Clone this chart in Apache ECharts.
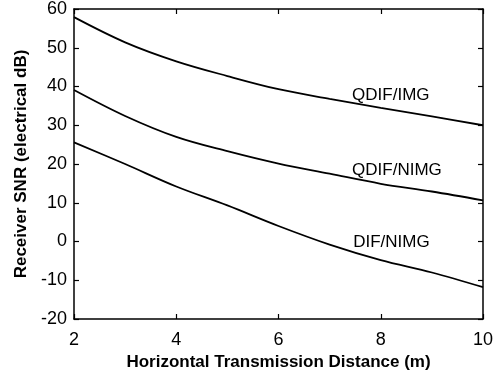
<!DOCTYPE html>
<html>
<head>
<meta charset="utf-8">
<script src="https://cdn.jsdelivr.net/npm/echarts@6/dist/echarts.min.js"></script>
<style>
html,body{margin:0;padding:0;background:#fff;}
#c{width:504px;height:376px;}
</style>
</head>
<body>
<div id="c"></div>
<script>
const distance = [2, 3, 4, 5, 6, 7, 8, 9, 10];
const qdifImg = [57.9, 51.4, 46.5, 42.7, 39.3, 36.8, 34.5, 32.3, 30.0];
const qdifNimg = [39.1, 32.4, 27.0, 23.3, 20.1, 17.5, 14.9, 12.9, 10.6];
const difNimg = [25.6, 20.0, 14.2, 9.3, 4.0, -0.8, -4.8, -8.0, -11.8];
const seriesNames = ['QDIF/IMG', 'QDIF/NIMG', 'DIF/NIMG'];
const labelAnchors = [[7.44, 37.7], [7.44, 18.4], [7.46, -0.2]];
const xTitle = 'Horizontal Transmission Distance (m)';
const yTitle = 'Receiver SNR (electrical dB)';

const FONT = '"Liberation Sans", Arial, Helvetica, sans-serif';
const chart = echarts.init(document.getElementById('c'), null, {renderer: 'canvas'});

function pairs(ys) { return distance.map((x, i) => [x, ys[i]]); }

const axisLine = {show: true, onZero: false, lineStyle: {color: '#000', width: 1.5}};
const tickIn = {show: true, inside: true, length: 5, lineStyle: {color: '#000', width: 1.2}};

const option = {
  animation: false,
  backgroundColor: '#fff',
  grid: {left: 74, right: 21, top: 4, bottom: 57, containLabel: false},
  xAxis: [
    {type: 'value', min: 2, max: 10, interval: 2, position: 'bottom',
     axisLine, axisTick: tickIn, splitLine: {show: false},
     axisLabel: {color: '#000', fontSize: 18, fontFamily: FONT, margin: 12},
     name: xTitle, nameLocation: 'middle', nameGap: 34,
     nameTextStyle: {color: '#000', fontSize: 17, fontWeight: 'bold', fontFamily: FONT}},
    {type: 'value', min: 2, max: 10, interval: 2, position: 'top',
     axisLine, axisTick: tickIn, axisLabel: {show: false}, splitLine: {show: false}}
  ],
  yAxis: [
    {type: 'value', min: -20, max: 60, interval: 10, position: 'left',
     axisLine, axisTick: tickIn, splitLine: {show: false},
     axisLabel: {color: '#000', fontSize: 18, fontFamily: FONT, margin: 7},
     name: yTitle, nameLocation: 'middle', nameGap: 41, nameRotate: 90,
     nameTextStyle: {color: '#000', fontSize: 17, fontWeight: 'bold', fontFamily: FONT}},
    {type: 'value', min: -20, max: 60, interval: 10, position: 'right',
     axisLine, axisTick: tickIn, axisLabel: {show: false}, splitLine: {show: false}}
  ],
  series: [qdifImg, qdifNimg, difNimg].map((ys, i) => ({
    name: seriesNames[i], type: 'line', smooth: 0.35, showSymbol: false,
    data: pairs(ys), lineStyle: {color: '#000', width: 1.8}, xAxisIndex: 0, yAxisIndex: 0
  }))
};
chart.setOption(option);

const graphics = seriesNames.map((n, i) => {
  const p = chart.convertToPixel({xAxisIndex: 0, yAxisIndex: 0}, labelAnchors[i]);
  return {type: 'text', x: p[0], y: p[1],
    style: {text: n, fill: '#000', fontSize: 17, fontFamily: FONT, verticalAlign: 'middle', align: 'left'}};
});
chart.setOption({graphic: graphics});
</script>
</body>
</html>
